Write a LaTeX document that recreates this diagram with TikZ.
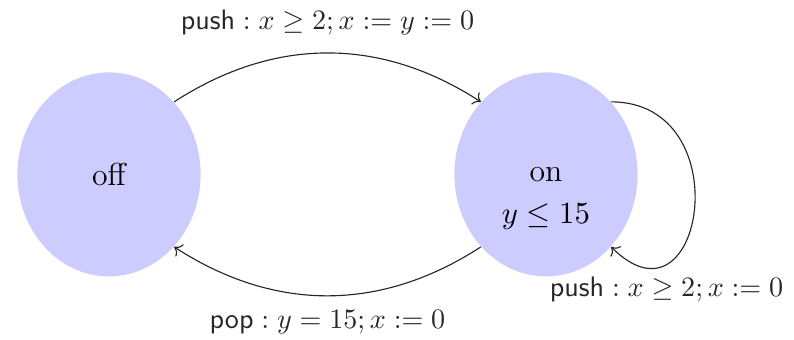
\documentclass[tikz,border=0pt]{standalone}
\usepackage{amsmath,amssymb}
\usepackage{tikz}
\usetikzlibrary{positioning,arrows.meta,shapes.geometric}

\begin{document}
\begin{tikzpicture}[
  >=To,
  loc/.style={ellipse, fill=blue!20, draw=none, minimum width=2.29cm, minimum height=2.55cm, inner sep=0pt, font=\fontsize{11.3}{14}\selectfont},
  trans/.style={->, black!85, line width=0.4pt},
  elab/.style={font=\normalsize, inner sep=2pt}
]
\useasboundingbox (0,0) rectangle (9.925,4.25);
\node[loc] (off) at (1.3625,2.07) {off};
\node[loc, label={[yshift=-5.3mm, font=\fontsize{11.3}{14}\selectfont]center:$y \leq 15$}] (on) at (6.825,2.07) {on};
\draw[trans] (off.north east) to[bend left=33] node[elab, above=1.5mm] {$\textsf{push} : x \geq 2; x := y := 0$} (on.north west);
\draw[trans] (on.south west) to[bend left=33] node[elab, below=1mm] {$\textsf{pop} : y = 15; x := 0$} (off.south east);
\draw[trans] (on.north east) to[out=0, in=-45, looseness=2.3] node[elab, below=0.8mm, pos=0.76] {$\textsf{push} : x \geq 2; x := 0$} (on.south east);
\end{tikzpicture}
\end{document}
